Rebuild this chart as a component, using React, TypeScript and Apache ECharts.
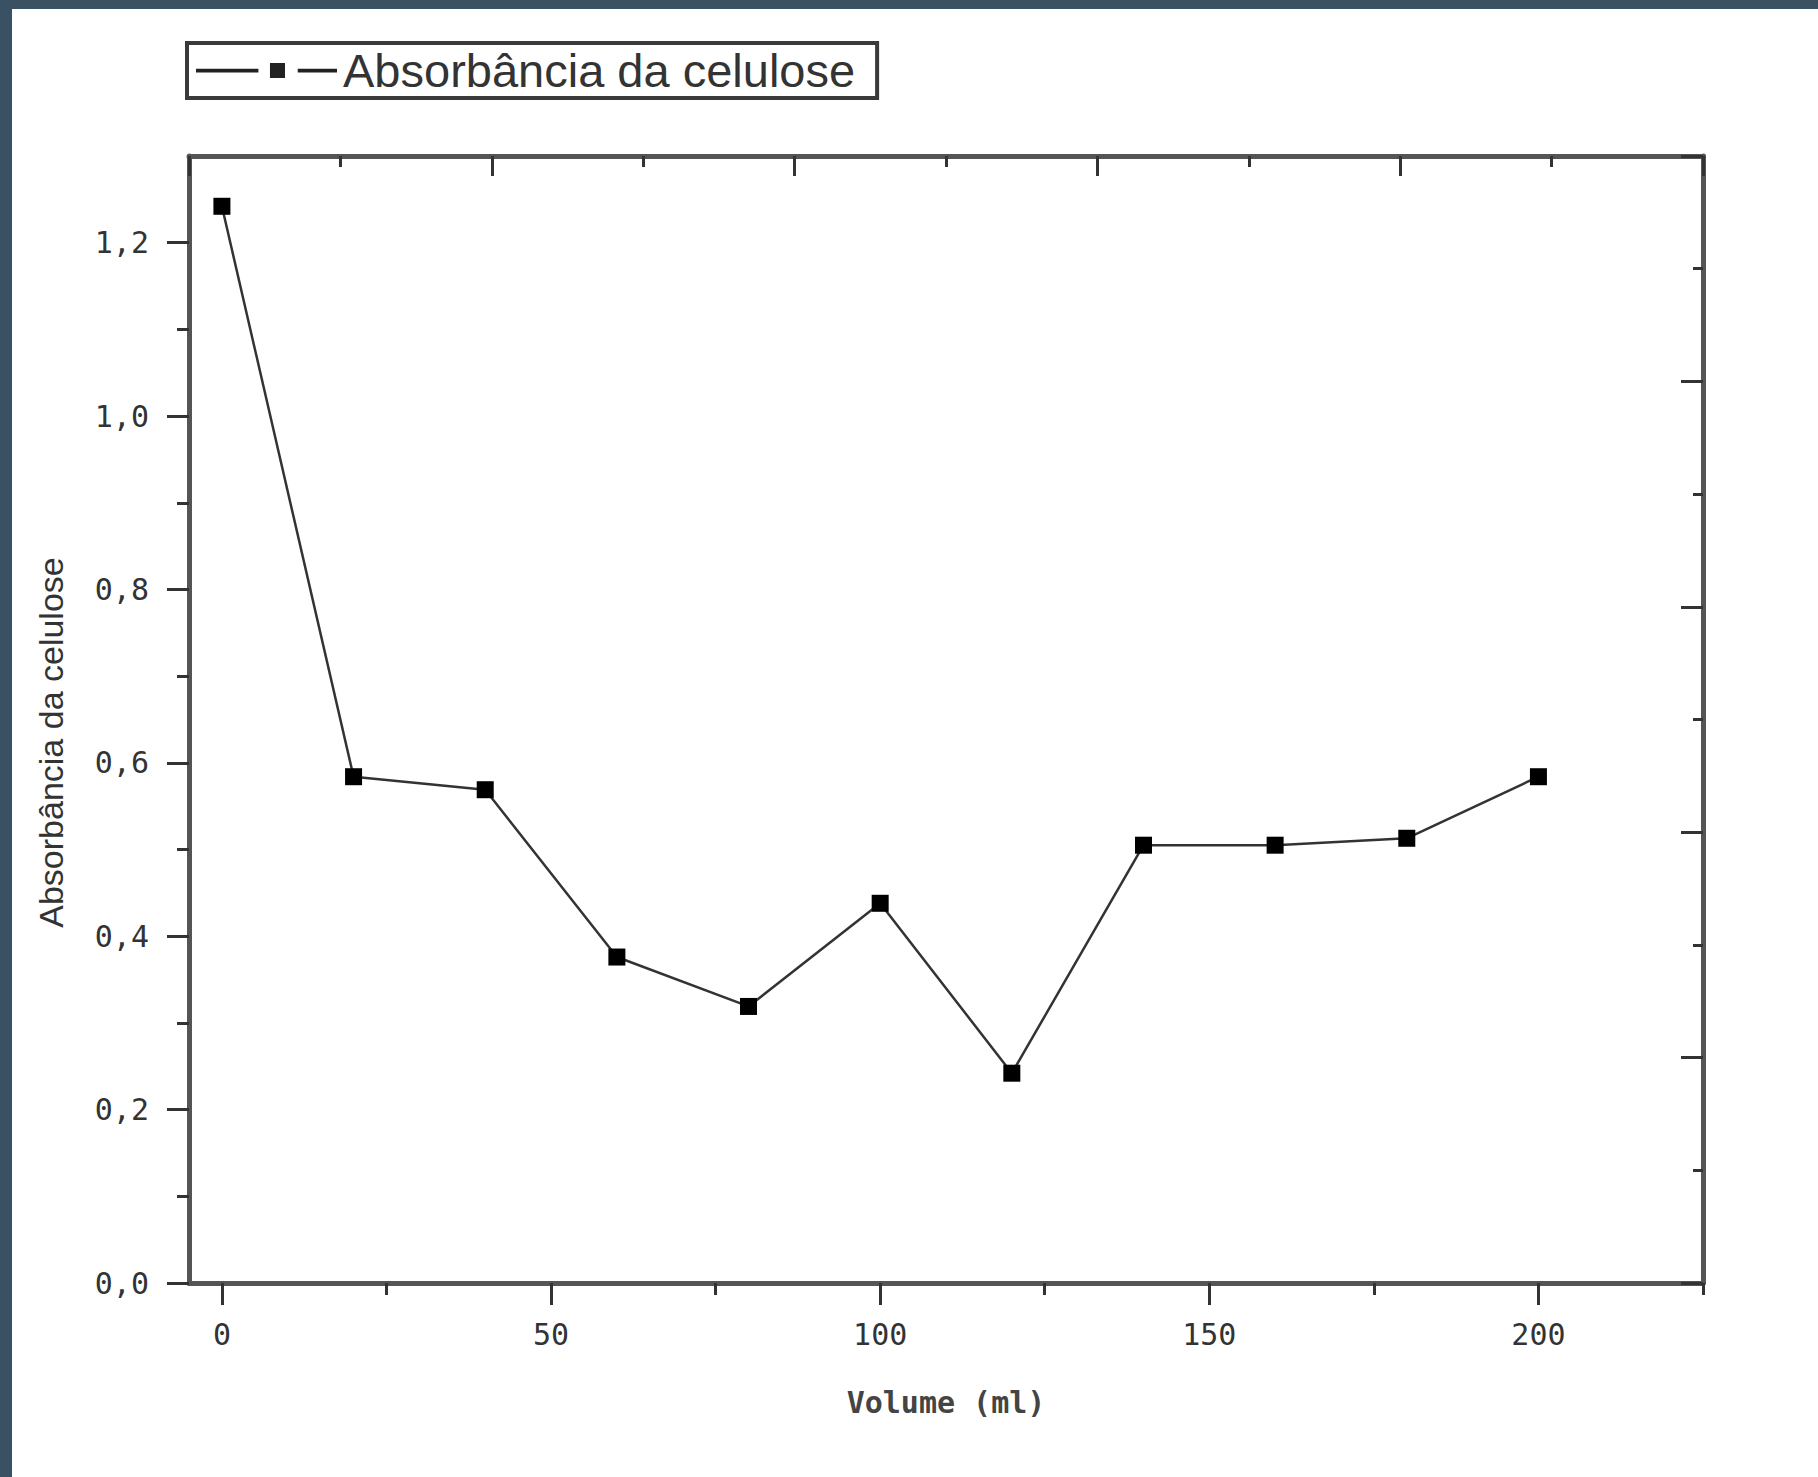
import React, { useEffect, useRef } from "react";
import * as echarts from "echarts";

const volumes = [0, 20, 40, 60, 80, 100, 120, 140, 160, 180, 200];
const absorbance = [1.242, 0.584, 0.569, 0.376, 0.319, 0.438, 0.242, 0.505, 0.505, 0.513, 0.584];
const xMajorTicks = [0, 50, 100, 150, 200];
const xMinorTicks = [25, 75, 125, 175, 225];
const yMajorTicks = [0, 0.2, 0.4, 0.6, 0.8, 1.0, 1.2];
const yMinorTicks = [0.1, 0.3, 0.5, 0.7, 0.9, 1.1];
const seriesName = "Absorbância da celulose";
const xName = "Volume (ml)";
const yName = "Absorbância da celulose";

const W = 1818;
const H = 1477;
const FRAME = "#555555";
const MONO = "'DejaVu Sans Mono', monospace";
const LEGEND_ICON = "path://M0,6H54V10H0Z M64,0H77V16H64Z M88,6H122V10H88Z";

export default function App() {
  const ref = useRef<HTMLDivElement>(null);
  useEffect(() => {
    document.body.style.margin = "0";
    if (!ref.current) return;
    const chart = echarts.init(ref.current, null, { renderer: "svg", width: W, height: H });
    const data = volumes.map((v, i) => [v, absorbance[i]]);
    chart.setOption({
      animation: false,
      backgroundColor: "#ffffff",
      graphic: [
        { type: "rect", shape: { x: 0, y: 0, width: W, height: 9 }, style: { fill: "#3a5163" }, z: 100 },
        { type: "rect", shape: { x: 0, y: 0, width: 12, height: H }, style: { fill: "#3a5163" }, z: 100 },
      ],
      legend: {
        left: 187,
        top: 43,
        orient: "horizontal",
        padding: [4, 22, 4, 9],
        borderColor: "#3a3a3a",
        borderWidth: 4,
        itemWidth: 141,
        itemHeight: 15,
        itemGap: 0,
        symbolKeepAspect: false,
        textStyle: {
          fontSize: 47,
          fontFamily: "'Liberation Sans', Arial, sans-serif",
          color: "#333",
          padding: [0, 0, 0, 1],
        },
        itemStyle: { color: "#222" },
        data: [{ name: seriesName, icon: LEGEND_ICON }],
      },
      grid: { left: 189, top: 156, right: 115, bottom: 194, containLabel: false },
      xAxis: [
        {
          type: "value",
          position: "bottom",
          min: -5,
          max: 225,
          axisLine: { show: true, onZero: false, lineStyle: { color: FRAME, width: 5 } },
          axisTick: { show: true, inside: false, length: 22, customValues: xMajorTicks, lineStyle: { color: "#333", width: 3 } },
          axisLabel: {
            show: true,
            customValues: xMajorTicks,
            margin: 36,
            fontFamily: MONO,
            fontSize: 30,
            color: "#333",
          },
          splitLine: { show: false },
          name: xName,
          nameLocation: "middle",
          nameGap: 104,
          nameTextStyle: { fontFamily: MONO, fontSize: 30, fontWeight: "bold", color: "#444" },
        },
        {
          type: "value",
          position: "bottom",
          min: -5,
          max: 225,
          axisLine: { show: false, onZero: false },
          axisTick: { show: true, inside: false, length: 12, customValues: xMinorTicks, lineStyle: { color: "#333", width: 3 } },
          axisLabel: { show: false },
          splitLine: { show: false },
        },
        {
          type: "value",
          position: "top",
          min: 0,
          max: 10,
          interval: 2,
          axisLine: { show: true, onZero: false, lineStyle: { color: FRAME, width: 5 } },
          axisTick: { show: true, inside: true, length: 20, lineStyle: { color: "#333", width: 3 } },
          minorTick: { show: true, splitNumber: 2, length: 11, lineStyle: { color: "#333", width: 3 } },
          axisLabel: { show: false },
          splitLine: { show: false },
        },
      ],
      yAxis: [
        {
          type: "value",
          position: "left",
          min: 0,
          max: 1.3,
          axisLine: { show: true, onZero: false, lineStyle: { color: FRAME, width: 5 } },
          axisTick: { show: true, inside: false, length: 22, customValues: yMajorTicks, lineStyle: { color: "#333", width: 3 } },
          axisLabel: {
            show: true,
            customValues: yMajorTicks,
            margin: 40,
            fontFamily: MONO,
            fontSize: 30,
            color: "#333",
            formatter: (v: number) => v.toFixed(1).replace(".", ","),
          },
          splitLine: { show: false },
          name: yName,
          nameLocation: "middle",
          nameRotate: 90,
          nameGap: 121,
          nameTextStyle: {
            fontFamily: "'Liberation Sans', Arial, sans-serif",
            fontSize: 34,
            color: "#333",
            padding: [0, 46, 0, 0],
          },
        },
        {
          type: "value",
          position: "left",
          min: 0,
          max: 1.3,
          axisLine: { show: false, onZero: false },
          axisTick: { show: true, inside: false, length: 12, customValues: yMinorTicks, lineStyle: { color: "#333", width: 3 } },
          axisLabel: { show: false },
          splitLine: { show: false },
        },
        {
          type: "value",
          position: "right",
          min: 0,
          max: 10,
          interval: 2,
          axisLine: { show: true, onZero: false, lineStyle: { color: FRAME, width: 5 } },
          axisTick: { show: true, inside: true, length: 22, lineStyle: { color: "#333", width: 3 } },
          minorTick: { show: true, splitNumber: 2, length: 10, lineStyle: { color: "#333", width: 3 } },
          axisLabel: { show: false },
          splitLine: { show: false },
        },
      ],
      series: [
        {
          name: seriesName,
          type: "line",
          xAxisIndex: 0,
          yAxisIndex: 0,
          data,
          symbol: "rect",
          symbolSize: 17,
          showSymbol: true,
          lineStyle: { color: "#333", width: 2.5 },
          itemStyle: { color: "#000", borderColor: "#000", borderWidth: 0 },
          z: 10,
        },
      ],
    });
    return () => chart.dispose();
  }, []);
  return <div ref={ref} style={{ width: W, height: H }} />;
}
